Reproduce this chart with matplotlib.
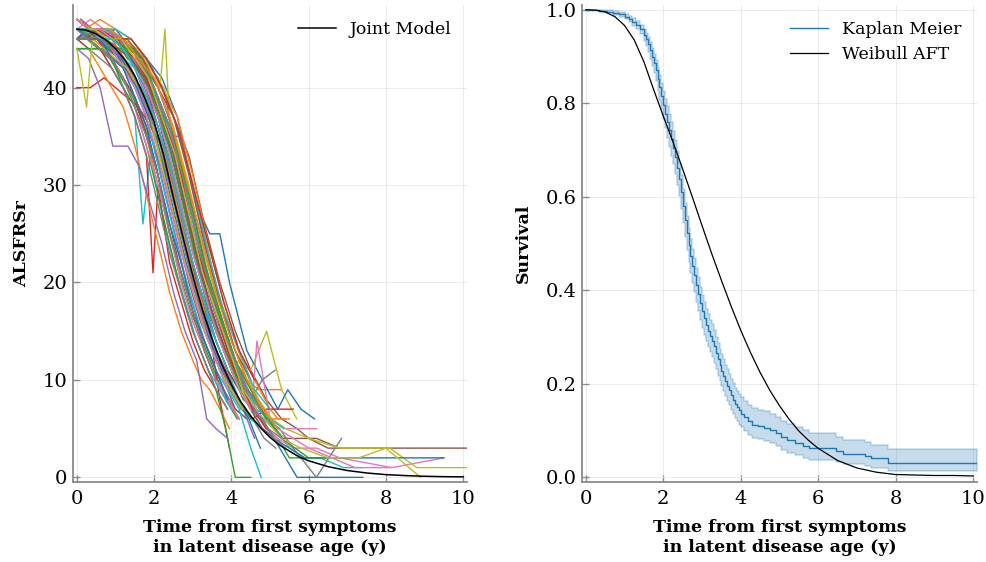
import matplotlib
matplotlib.use("Agg")
import matplotlib.pyplot as plt

plt.rcParams['font.family'] = ['DejaVu Serif']

# ---------------- data: left panel (ALSFRSr trajectories) ----------------
pat_times = [
    [0.0,0.3,0.6,0.9,1.2,1.5,1.8,2.1,2.4,2.7,3.0,3.3,3.6,3.9,4.2,4.5],
    [0.1,0.4,0.75,1.05,1.4,1.7,2.0,2.3,2.6,2.9,3.2,3.5,3.8,4.1,4.4,4.7,5.0,5.3],
    [0.0,0.25,0.55,0.85,1.15,1.45,1.75,2.05,2.35,2.65,2.95,3.25,3.55,3.85,4.15],
    [0.0,0.35,0.7,1.0,1.3,1.6,1.9,2.2,2.5,2.8,3.1,3.4,3.7,3.95],
    [0.05,0.4,0.75,1.1,1.4,1.7,2.0,2.3,2.6,2.9,3.2,3.5,3.8,4.1,4.4],
    [0.2,0.5,0.9,1.3,1.7,2.1,2.5,2.9,3.3,3.7,4.1,4.5,4.9,5.3,5.7,6.0,6.5,10.1],
    [0.0,0.3,0.6,0.9,1.2,1.5,1.8,2.1,2.4,2.7,3.0,3.3,3.6,3.9,4.2,4.5,4.8,5.1],
    [0.0,0.3,0.65,0.95,1.25,1.55,1.85,2.15,2.45,2.75,3.05,3.35,3.65,3.95,4.25,4.55,4.85,5.15],
    [0.1,0.5,0.9,1.3,1.7,2.1,2.5,2.9,3.3,3.7,4.1,4.5,4.91,5.3,5.69],
    [0.0,0.3,0.6,0.9,1.2,1.5,1.71,1.9,2.2,2.5,2.8,3.1,3.4,3.7,4.0],
    [0.2,0.6,1.0,1.4,1.8,2.2,2.6,3.09,3.44,3.7,3.95,4.4,4.8,5.2,5.46,5.8,6.15],
    [0.0,0.3,0.6,0.9,1.2,1.5,1.8,2.1,2.4,2.7,3.0,3.3,3.6,3.9,4.2],
    [0.1,0.4,0.7,1.0,1.3,1.6,1.9,2.2,2.5,2.8,3.1,3.4,3.7,4.0,4.3,4.6,4.9,5.2,5.5,6.3],
    [0.0,0.3,0.6,0.9,1.2,1.5,1.8,1.97,2.1,2.4,2.7,3.0,3.3,3.6,3.9],
    [0.2,0.55,0.9,1.25,1.6,1.95,2.3,2.49,2.71,2.92,3.2,3.5,3.8,4.1,4.4,4.7,5.0],
    [0.0,0.25,0.5,0.8,1.1,1.4,1.7,2.0,2.3,2.6,2.9,3.2,3.5,3.8,4.1,4.4],
    [0.0,0.35,0.7,1.05,1.4,1.75,2.1,2.45,2.8,3.15,3.5,3.85,4.2,4.55,4.66,5.0,5.4,5.9,6.2],
    [0.0,0.3,0.6,0.9,1.2,1.5,1.8,2.1,2.4,2.7,3.0,3.3,3.6,3.9,4.2,4.5,4.8,5.13],
    [0.1,0.45,0.8,1.15,1.5,1.85,2.15,2.28,2.4,2.7,3.0,3.3,3.6,3.9,4.2,4.5,4.8,5.1,5.4],
    [0.05,0.35,0.65,0.95,1.25,1.55,1.85,2.15,2.45,2.75,3.05,3.35,3.65,3.95,4.25,4.55,4.85,5.15,5.5,5.9,6.3,6.9,7.4],
    [0.0,0.3,0.6,0.9,1.2,1.5,1.8,2.1,2.4,2.7,3.0,3.3,3.6,3.9,4.2,4.5,4.8,5.1,5.4,5.7,6.5,7.4],
    [0.0,0.3,0.6,0.9,1.2,1.5,1.8,2.1,2.4,2.7,3.0,3.22,3.44,3.7,3.95],
    [0.0,0.3,0.6,0.9,1.2,1.5,1.8,2.1,2.4,2.7,3.0,3.3,3.6,3.85,4.1,4.5],
    [0.0,0.35,0.7,1.05,1.4,1.75,2.1,2.45,2.8,3.15,3.5,3.85,4.2,4.55,4.9,5.25,5.6],
    [0.0,0.3,0.6,0.93,1.32,1.6,1.9,2.2,2.5,2.8,3.1,3.36,3.6,3.9],
    [0.1,0.4,0.75,1.1,1.45,1.8,2.15,2.5,2.85,3.2,3.55,3.9,4.25,4.6,4.95,5.3,5.7,6.2,6.8],
    [0.0,0.3,0.6,0.9,1.2,1.5,1.8,2.1,2.4,2.7,3.0,3.3,3.6,3.9,4.2,4.5,4.8,5.2,5.6,6.2,6.8,8.15,9.5],
    [0.0,0.35,0.7,1.05,1.4,1.75,2.1,2.45,2.8,3.15,3.5,3.85,4.2,4.55,4.9,5.25,5.6,6.2,6.85],
    [0.15,0.5,0.85,1.2,1.55,1.9,2.25,2.6,2.95,3.3,3.65,4.0,4.35,4.7,5.05,5.4,6.0,6.8,7.5,8.1,8.8,10.1],
    [0.0,0.3,0.6,0.9,1.2,1.5,1.8,2.1,2.4,2.7,3.0,3.3,3.6,3.9,4.2,4.5,4.77],
    [0.0,0.3,0.6,0.9,1.2,1.5,1.8,2.1,2.4,2.7,3.0,3.3,3.6,3.9,4.2,4.5,4.8,5.1,5.5,5.9,6.5,8.0,9.5],
    [0.0,0.3,0.6,0.9,1.2,1.5,1.8,2.1,2.4,2.7,3.0,3.3,3.6,3.9,4.2,4.5,4.8,5.1,5.4],
    [0.05,0.4,0.75,1.1,1.45,1.8,2.15,2.5,2.85,3.2,3.55,3.9,4.25,4.6,4.95,5.3,5.65,6.0,6.5],
    [0.0,0.3,0.6,0.9,1.2,1.5,1.8,2.1,2.4,2.7,3.0,3.3,3.6],
    [0.1,0.4,0.7,1.0,1.3,1.6,1.9,2.2,2.5,2.8,3.1,3.4,3.7,4.0,4.3,4.6],
    [0.0,0.3,0.6,0.9,1.2,1.5,1.8,2.1,2.4,2.7,3.0,3.3,3.6,3.9,4.2],
    [0.0,0.4,0.8,1.2,1.6,2.0,2.4,2.8,3.2,3.6,4.0,4.4,4.8,5.2,5.6,6.0,6.6,7.2,8.1],
    [0.0,0.3,0.6,0.9,1.2,1.5,1.8,2.1,2.4,2.7,3.0,3.3,3.6,3.9],
    [0.05,0.35,0.65,0.95,1.25,1.55,1.85,2.15,2.45,2.75,3.05,3.35,3.65,3.95,4.25,4.55,4.85,5.3,5.8,6.5,7.3,8.0,8.9],
    [0.0,0.3,0.6,0.9,1.2,1.5,1.8,2.1,2.4,2.7,3.0,3.3,3.6,3.9,4.2,4.5,4.8],
    [0.0,0.25,0.55,0.85,1.15,1.45,1.75,2.05,2.35,2.65,2.95,3.25,3.55,3.85,4.15,4.45,4.75],
    [0.2,0.6,1.0,1.4,1.8,2.2,2.6,3.0,3.4,3.8,4.2,4.6,5.0,5.2,5.5],
    [0.0,0.3,0.6,0.9,1.2,1.5,1.8,2.1,2.4,2.7,3.0,3.3,3.6,3.9,4.2,4.5],
    [0.0,0.35,0.7,1.05,1.4,1.75,2.1,2.45,2.8,3.15,3.5,3.85,4.2,4.55,4.9],
    [0.05,0.4,0.75,1.1,1.45,1.8,2.15,2.5,2.85,3.2,3.55,3.9,4.25,4.6,4.95,5.3],
    [0.0,0.3,0.6,0.9,1.2,1.5,1.8,2.1,2.4,2.7,3.0,3.3,3.6,3.9,4.2,4.5,4.8,5.1],
    [0.0,0.3,0.6,0.9,1.2,1.5,1.8,2.1,2.4,2.7,3.0,3.3,3.6,3.9,4.2],
    [0.0,0.3,0.6,0.9,1.2,1.5,1.8,2.1,2.4,2.7,3.0,3.3,3.6,3.9,4.2,4.5,4.8,5.1,5.4],
    [0.0,0.25,0.4,0.7,1.0,1.3,1.6,1.9,2.2,2.5,2.8,3.1,3.4,3.7,4.0,4.3],
    [0.1,0.45,0.8,1.15,1.5,1.85,2.2,2.55,2.9,3.25,3.6,3.95,4.3,4.65,5.0,5.35],
    [0.0,0.3,0.6,0.9,1.2,1.5,1.8,2.1,2.4,2.7,3.0,3.3,3.6],
    [0.0,0.3,0.6,0.9,1.2,1.5,1.8,2.1,2.4,2.7,3.0,3.3],
    [0.1,0.5,0.9,1.3,1.7,2.1,2.5,2.9,3.3,3.7,4.1,4.5,4.9],
    [0.0,0.3,0.6,0.9,1.2,1.5,1.8,2.1,2.4,2.7,3.0,3.3,3.6,3.9,4.2],
    [0.0,0.35,0.7,1.05,1.4,1.75,2.1,2.45,2.8,3.15,3.5],
    [0.1,0.5,0.9,1.3,1.7,2.1,2.5,2.9,3.3,3.7,4.1,4.5],
    [0.0,0.3,0.6,0.9,1.2,1.5,1.8,2.1,2.4,2.7,3.0,3.3,3.6,3.9],
    [0.0,0.4,0.8,1.2,1.6,2.0,2.4,2.8,3.2,3.6,4.0,4.4,4.8],
    [0.0,0.3,0.6,0.9,1.2,1.5,1.8,2.1,2.4,2.7,3.0],
    [0.2,0.6,1.0,1.4,1.8,2.2,2.6,3.0,3.4,3.8,4.2,4.6,5.0],
    [0.0,0.3,0.6,0.9,1.2,1.5,1.8,2.1,2.4,2.7,3.0,3.3,3.6,3.9],
    [0.0,0.4,0.8,1.2,1.6,2.0,2.4,2.8,3.2,3.6,4.0,4.4,4.8,5.2],
    [0.05,0.35,0.65,0.95,1.25,1.55,1.85,2.15,2.45,2.75,3.05,3.35,3.65,3.95,4.25],
    [0.2,0.6,1.0,1.4,1.8,2.2,2.6,3.0,3.4,3.8,4.2,4.6],
    [0.0,0.3,0.6,0.9,1.2,1.5,1.8,2.1,2.4,2.7,3.0,3.3,3.6,3.9,4.2],
    [0.0,0.35,0.7,1.05,1.4,1.75,2.1,2.45,2.8,3.15,3.5,3.85],
    [0.0,0.3,0.6,0.9,1.2,1.5,1.8,2.1,2.4,2.7,3.0,3.3,3.6,3.9,4.2,4.5],
    [0.0,0.3,0.6,0.9,1.2,1.5,1.8,2.1,2.4,2.7,3.0,3.3,3.6],
    [0.1,0.45,0.8,1.15,1.5,1.85,2.2,2.55,2.9,3.25,3.6,3.95,4.3,4.65],
    [0.0,0.3,0.6,0.9,1.2,1.5,1.8,2.1,2.4,2.7,3.0,3.3,3.6,3.9],
]
pat_scores = [
    [46,45,45,44,43,41,39,35,31,26,21,17,13,10,8,6],
    [47,46,46,45,44,42,40,37,33,28,23,19,15,12,10,9,9,9],
    [45,45,44,43,41,39,36,32,26,21,17,14,11,8,6],
    [40,40,41,40,39,38,36,34,30,25,20,16,8,3],
    [46,45,44,43,40,37,34,29,24,19,15,12,9,7,6],
    [45,45,45,44,43,41,37,33,26,20,15,11,8,6,5,4,3,3],
    [47,46,46,45,44,43,40,38,34,29,24,19,15,12,10,8,6,5],
    [44,44,44,43,42,40,37,33,28,23,19,15,12,9,7,6,4,3],
    [46,45,46,44,43,40,36,30,23,17,12,11,15,9,6],
    [46,45,44,42,40,37,26,33,27,22,18,14,11,9,7],
    [46,45,46,44,43,41,37,28,25,25,20,13,10,7,9,7,6],
    [45,45,44,43,41,38,35,30,25,20,16,13,10,8,6],
    [47,46,45,45,43,42,39,36,31,26,22,17,14,11,8,7,5,4,2,2],
    [46,45,44,42,40,37,33,21,30,22,18,14,11,9,7],
    [45,45,45,44,44,42,39,35,35,31,26,21,17,13,10,8,6],
    [46,46,45,44,43,41,38,34,30,25,20,16,13,10,7,6],
    [46,47,46,45,44,42,39,35,29,23,18,14,10,8,14,6,5,5,5],
    [45,46,45,44,43,41,39,36,31,26,22,17,14,11,9,8,10,11],
    [46,46,46,45,44,42,40,46,36,32,27,22,18,14,11,9,7,5,4],
    [45,46,45,45,44,42,40,38,34,29,24,19,15,12,10,7,6,5,3,2,2,1,1],
    [46,45,45,45,44,43,41,38,34,29,24,20,15,12,10,7,6,4,2,0,0,0],
    [45,44,42,40,38,34,29,24,19,15,12,10,9,7,5],
    [46,45,44,43,40,38,34,29,24,19,15,12,9,5,0,0],
    [45,46,44,44,42,39,35,30,24,19,14,11,8,6,7,7,7],
    [44,43,40,34,34,32,28,24,19,15,12,6,5,4],
    [46,45,45,45,44,42,38,35,29,23,18,14,10,8,6,4,4,4,3],
    [47,46,45,44,43,41,38,34,30,25,20,16,13,10,8,6,5,4,3,3,2,1,2],
    [46,46,45,45,44,42,40,36,31,25,19,15,11,8,6,5,3,0,4],
    [45,46,46,45,44,42,40,36,31,25,19,15,11,8,6,5,4,3,3,3,1,1],
    [46,45,45,44,42,40,37,32,27,22,18,14,11,9,7,3,0],
    [46,46,45,45,44,42,40,37,32,27,22,18,14,11,9,7,5,4,3,2,2,2,2],
    [46,46,46,45,44,42,40,37,33,28,23,19,15,12,9,7,6,6,6],
    [45,45,45,44,44,42,38,35,29,23,18,14,10,8,6,4,3,2,2],
    [45,45,44,43,41,39,35,31,25,21,17,13,10],
    [47,46,45,44,42,40,37,34,29,24,19,15,12,9,7,4],
    [45,44,44,43,41,39,36,31,26,21,17,14,11,8,6],
    [46,46,45,45,43,41,37,31,25,19,14,10,7,5,4,3,2,1,1],
    [44,44,43,42,40,37,33,28,23,19,15,12,9,7],
    [46,45,45,45,44,42,40,37,33,28,23,19,15,12,9,7,6,4,3,2,2,3,0],
    [47,46,45,45,43,42,39,36,31,26,21,17,14,11,8,6,5],
    [45,46,45,44,43,41,38,35,30,25,20,16,13,10,8,6,3],
    [46,47,46,45,43,40,37,31,24,18,13,10,7,6,6],
    [44,44,44,44,43,41,38,34,30,25,20,16,13,10,8,6],
    [46,46,45,45,43,41,38,34,28,22,17,13,10,7,5],
    [46,46,46,45,43,41,38,34,28,22,17,13,10,7,5,4],
    [45,45,45,44,44,42,40,36,32,27,22,18,14,11,9,7,5,4],
    [46,45,44,43,41,38,34,30,25,20,16,13,10,8,6],
    [45,45,45,45,44,42,40,37,33,28,23,19,15,12,9,7,6,4,3],
    [44,38,45,44,43,42,40,37,32,27,22,18,14,11,9,7],
    [46,45,46,44,43,41,38,34,28,22,17,13,10,7,6,5],
    [46,46,46,45,44,42,41,37,34,29,24,19,15],
    [46,46,45,45,43,41,39,36,31,26,21,17],
    [45,46,45,44,43,39,35,29,22,17,12,9,6],
    [47,46,46,45,44,43,41,38,35,31,25,21,17,13,10],
    [46,45,45,44,43,40,36,31,25,20,15],
    [46,46,45,45,43,40,37,31,24,18,13,10],
    [46,46,45,44,42,40,37,33,28,23,19,15,12,9],
    [46,46,46,45,43,40,36,30,23,17,13,9,7],
    [45,45,45,44,43,41,38,35,30,25,21],
    [46,46,46,45,43,40,36,30,23,17,13,9,7],
    [46,45,45,43,42,39,36,31,26,22,17,14,11,8],
    [47,46,46,45,43,41,37,31,25,19,14,10,7,5],
    [46,45,45,44,44,42,40,37,33,28,23,19,15,12,9],
    [45,46,45,45,43,40,36,30,24,18,13,10],
    [46,45,45,44,43,41,38,35,30,25,20,16,13,10,8],
    [45,45,45,44,43,41,38,34,28,22,17,13],
    [47,46,46,45,44,42,40,37,33,28,23,19,15,12,9,7],
    [45,45,44,43,41,38,35,31,25,21,17,13,10],
    [46,46,45,45,43,41,37,33,27,21,17,13,9,7],
    [46,46,45,45,44,42,39,36,32,27,22,18,14,11],
]

# Joint model mean curve
jm_t = [0.0,0.25,0.5,0.75,1.0,1.25,1.5,1.75,2.0,2.25,2.5,2.75,3.0,3.25,3.5,3.75,
        4.0,4.25,4.5,4.75,5.0,5.25,5.5,5.75,6.0,6.5,7.0,7.5,8.0,8.5,9.0,9.5,10.0]
jm_y = [46.0,45.9,45.5,44.9,44.0,42.8,41.2,39.0,36.5,33.0,28.7,24.6,20.7,17.2,14.2,11.6,
        9.5,7.7,6.3,5.1,4.1,3.3,2.7,2.1,1.7,1.1,0.7,0.45,0.28,0.18,0.11,0.07,0.05]

# ---------------- data: right panel (survival) ----------------
km_t = [0.0,0.35,0.55,0.7,0.85,1.0,1.1,1.2,1.3,1.4,
        1.5,1.55,1.6,1.65,1.7,1.75,1.8,1.85,1.9,1.95,
        2.0,2.05,2.1,2.15,2.2,2.25,2.3,2.35,2.4,2.45,
        2.5,2.55,2.6,2.65,2.7,2.75,2.8,2.85,2.9,2.95,
        3.0,3.05,3.1,3.15,3.2,3.25,3.3,3.35,3.4,3.45,
        3.5,3.55,3.6,3.65,3.7,3.75,3.8,3.85,3.9,3.95,
        4.0,4.08,4.18,4.3,4.45,4.6,4.75,4.9,5.05,5.2,
        5.4,5.6,5.75,6.45,6.65,7.2,7.35,7.8,10.1]
km_s = [1.000,0.998,0.996,0.993,0.990,0.985,0.980,0.974,0.967,0.958,
        0.946,0.937,0.926,0.913,0.899,0.885,0.870,0.852,0.834,0.815,
        0.797,0.778,0.760,0.742,0.724,0.705,0.685,0.662,0.637,0.610,
        0.580,0.550,0.522,0.497,0.473,0.452,0.432,0.412,0.392,0.372,
        0.355,0.340,0.326,0.314,0.302,0.292,0.280,0.266,0.252,0.240,
        0.228,0.217,0.206,0.196,0.186,0.176,0.166,0.157,0.150,0.143,
        0.136,0.128,0.120,0.113,0.110,0.106,0.101,0.094,0.086,0.079,
        0.073,0.068,0.063,0.057,0.050,0.046,0.041,0.031,0.031]
km_hi = [1.000,1.000,0.999,0.997,0.995,0.991,0.987,0.982,0.976,0.968,
         0.958,0.951,0.942,0.931,0.919,0.906,0.893,0.877,0.861,0.843,
         0.827,0.810,0.794,0.777,0.760,0.741,0.721,0.698,0.673,0.646,
         0.616,0.586,0.558,0.533,0.509,0.488,0.468,0.448,0.428,0.408,
         0.390,0.375,0.361,0.349,0.337,0.327,0.315,0.301,0.287,0.275,
         0.263,0.252,0.241,0.231,0.221,0.211,0.201,0.192,0.185,0.178,
         0.171,0.163,0.155,0.148,0.145,0.141,0.136,0.129,0.121,0.114,
         0.107,0.101,0.094,0.087,0.079,0.075,0.070,0.061,0.061]
km_lo = [1.000,0.996,0.993,0.989,0.985,0.979,0.973,0.966,0.958,0.948,
         0.934,0.923,0.910,0.895,0.879,0.864,0.847,0.827,0.807,0.787,
         0.767,0.746,0.726,0.707,0.688,0.669,0.649,0.626,0.601,0.574,
         0.544,0.514,0.486,0.461,0.437,0.416,0.396,0.376,0.356,0.336,
         0.320,0.305,0.291,0.279,0.267,0.257,0.245,0.231,0.217,0.205,
         0.196,0.185,0.174,0.164,0.154,0.145,0.135,0.127,0.120,0.113,
         0.107,0.099,0.091,0.085,0.082,0.078,0.073,0.066,0.059,0.052,
         0.047,0.042,0.037,0.033,0.028,0.025,0.021,0.013,0.013]

wb_t = [0.0,0.25,0.5,0.75,1.0,1.25,1.5,1.75,2.0,2.25,2.5,2.75,3.0,3.25,3.5,3.75,
        4.0,4.25,4.5,4.75,5.0,5.25,5.5,5.75,6.0,6.5,7.0,7.5,8.0,8.5,9.0,9.5,10.0]
wb_s = [1.000,0.999,0.995,0.985,0.966,0.935,0.888,0.829,0.772,0.717,0.659,0.599,0.538,
        0.478,0.421,0.366,0.314,0.267,0.224,0.186,0.153,0.124,0.099,0.079,0.062,
        0.036,0.020,0.011,0.006,0.005,0.004,0.004,0.003]

tab10 = ['#1f77b4','#ff7f0e','#2ca02c','#d62728','#9467bd',
         '#8c564b','#e377c2','#7f7f7f','#bcbd22','#17becf']

# ---------------- figure ----------------
fig = plt.figure(figsize=(9.87, 5.62), dpi=100)
axL = fig.add_axes([0.0740, 0.1423, 0.3992, 0.8488])
axR = fig.add_axes([0.5897, 0.1423, 0.4002, 0.8488])

spine_col = '#8a8a8a'
def style(ax):
    for s in ['top', 'right']:
        ax.spines[s].set_visible(False)
    for s in ['left', 'bottom']:
        ax.spines[s].set_color(spine_col)
        ax.spines[s].set_linewidth(1.3)
    ax.tick_params(direction='in', length=5, width=1.0, color=spine_col,
                   labelsize=14, pad=4)
    ax.tick_params(axis='x', pad=6)
    ax.grid(True, color='#e8e8e8', linewidth=0.6)
    ax.set_axisbelow(True)
    ax.set_xlim(-0.1, 10.1)
    ax.set_xticks([0, 2, 4, 6, 8, 10])
    ax.set_xlabel('Time from first symptoms\nin latent disease age (y)',
                  fontsize=12.5, fontweight='bold', multialignment='center',
                  labelpad=8)

for i, (tt, ss) in enumerate(zip(pat_times, pat_scores)):
    n = min(len(tt), len(ss))
    axL.plot(tt[:n], ss[:n], color=tab10[i % 10], linewidth=1.0, zorder=2)
axL.plot(jm_t, jm_y, color='black', linewidth=1.1, label='Joint Model', zorder=3)
style(axL)
axL.set_ylim(-0.48, 48.48)
axL.set_yticks([0, 10, 20, 30, 40])
axL.set_ylabel('ALSFRSr', fontsize=12.5, fontweight='bold')
axL.yaxis.set_label_coords(-0.11, 0.5)
axL.legend(loc='upper right', frameon=False, fontsize=12.5, handlelength=2.2,
           borderaxespad=0.5)

axR.fill_between(km_t, km_lo, km_hi, step='post', color='#1f77b4', alpha=0.25,
                 linewidth=1.2, zorder=2)
axR.step(km_t, km_s, where='post', color='#1f77b4', linewidth=1.0,
         label='Kaplan Meier', zorder=3)
axR.plot(wb_t, wb_s, color='black', linewidth=0.9, label='Weibull AFT', zorder=4)
style(axR)
axR.set_ylim(-0.01, 1.01)
axR.set_yticks([0.0, 0.2, 0.4, 0.6, 0.8, 1.0])
axR.set_yticklabels(['0.0', '0.2', '0.4', '0.6', '0.8', '1.0'])
axR.set_ylabel('Survival', fontsize=12.5, fontweight='bold')
axR.yaxis.set_label_coords(-0.127, 0.5)
axR.legend(loc='upper right', frameon=False, fontsize=12.5, handlelength=2.2,
           borderaxespad=0.5)

fig.savefig('out.png', dpi=100)
